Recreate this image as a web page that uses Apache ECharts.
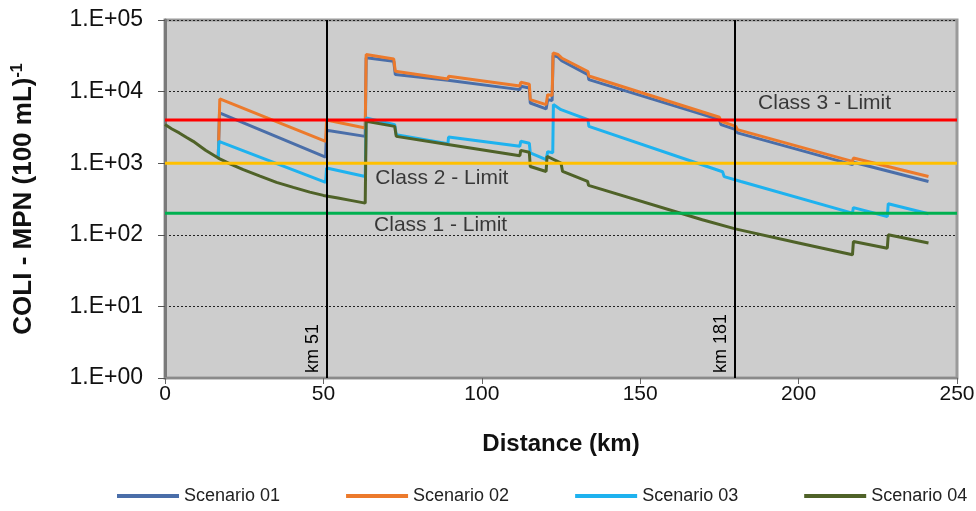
<!DOCTYPE html>
<html>
<head>
<meta charset="utf-8">
<script src="https://cdn.jsdelivr.net/npm/echarts@6/dist/echarts.min.js"></script>
<style>html,body{margin:0;padding:0;background:#fff;}#c{width:976px;height:511px;}</style>
</head>
<body>
<div id="c"></div>
<script>
// ---- data (km, MPN per 100 mL) ----
const seriesNames = ['Scenario 01', 'Scenario 02', 'Scenario 03', 'Scenario 04'];
const scenario01 = [[16.8,1180],[17.2,5030],[50.7,1220],[51,2880],[63.2,2370],[63.5,29600],[72.2,26500],[72.7,17300],[89.3,14400],[89.5,15200],[112,10660],[112.3,11870],[115,11200],[115.3,6930],[120.3,5730],[120.8,7730],[122.2,7500],[122.5,31800],[124,30500],[125.2,27000],[133.5,17300],[133.8,14700],[175,4060],[175.5,3460],[180.2,2940],[180.7,2650],[217,955],[217.3,1030],[241,556]];
const scenario02 = [[16.8,1180],[17.3,7900],[50.7,2020],[51,4000],[63.2,3100],[63.5,32900],[72.2,28600],[72.7,19200],[89.3,15000],[89.5,16400],[112,12000],[112.3,13500],[115,12700],[115.3,7730],[120.3,6580],[120.8,9080],[122.2,8800],[122.5,34700],[124,33000],[125.2,29500],[133.5,19100],[133.8,16500],[175,4380],[175.5,3850],[180.2,3270],[180.7,2940],[217,1060],[217.3,1180],[241,653]];
const scenario03 = [[16.8,1180],[17,2020],[50.7,540],[51,855],[63.2,653],[63.5,4290],[72.5,3460],[73,2500],[89.3,1870],[89.5,2320],[112,1720],[112.3,2020],[115,1900],[115.3,1390],[120.3,1120],[120.8,1450],[122.4,1400],[122.6,6580],[125,5600],[133.5,4060],[133.8,3270],[176,760],[176.5,650],[181.8,556],[217,201],[217.3,240],[228,180],[228.3,272],[241,197]];
const scenario04 = [[0,3460],[2.2,3000],[4.5,2650],[6.7,2300],[8.9,2020],[12.8,1520],[16.8,1180],[20.7,970],[24.7,812],[30,660],[35.2,540],[40.5,460],[45.7,395],[50,355],[54.6,326],[59,300],[63.2,277],[63.5,3850],[72.5,3270],[73,2370],[89.3,1820],[112,1275],[112.3,1510],[115,1420],[115.3,900],[120.3,767],[120.6,1250],[125,1000],[125.5,767],[133.4,556],[133.7,490],[169.6,162],[180,121],[200,77],[217,52.6],[217.3,80.5],[228,65],[228.3,100],[241,76.6]];
const limitNames = ['Class 1 - Limit', 'Class 2 - Limit', 'Class 3 - Limit'];
const limitValues = [200, 1000, 4000];
const limitLabelPos = [[87, 134], [87.4, 627], [208.2, 6800]];
const kmMarks = [51, 180];
const kmLabels = ['km 51', 'km 181'];
const yTickLabels = ['1.E+00', '1.E+01', '1.E+02', '1.E+03', '1.E+04', '1.E+05'];
const xTicks = [0, 50, 100, 150, 200, 250];

// ---- styles ----
const colors = ['#4a6ea9', '#ec7a2c', '#1eb2ef', '#4f6228'];
const limitColors = ['#00b050', '#ffc000', '#ff0000'];
const FONT = '"Liberation Sans", Arial, sans-serif';

const chart = echarts.init(document.getElementById('c'), null, {renderer: 'canvas'});
const scen = [scenario01, scenario02, scenario03, scenario04];

const series = scen.map((d, i) => ({
  name: seriesNames[i], type: 'line', data: d, showSymbol: false, symbol: 'none',
  lineStyle: {width: 3, color: colors[i]}, itemStyle: {color: colors[i]}, z: 3, silent: true
}));

limitValues.forEach((v, i) => {
  series.push({
    name: limitNames[i], type: 'line', data: [[xTicks[0], v], [xTicks[xTicks.length - 1], v]],
    showSymbol: false, symbol: 'none', lineStyle: {width: 3, color: limitColors[i]}, z: 4, silent: true
  });
  series.push({
    type: 'scatter', data: [limitLabelPos[i]], symbolSize: 0, silent: true, z: 6,
    label: {show: true, position: 'inside', formatter: limitNames[i], color: '#111', fontSize: 21, fontFamily: FONT}
  });
});

series.push({
  type: 'line', data: [], silent: true, z: 5,
  markLine: {
    silent: true, symbol: 'none', animation: false,
    lineStyle: {color: '#000', width: 2, type: 'solid'},
    data: kmMarks.map((k, i) => ({
      xAxis: k,
      label: {show: true, formatter: kmLabels[i], position: 'insideStartTop', color: '#000', fontSize: 18, fontFamily: FONT, distance: 5}
    }))
  }
});

chart.setOption({
  animation: false,
  backgroundColor: '#fff',
  color: colors,
  grid: {left: 165, right: 19, top: 20, bottom: 133, containLabel: false, outerBoundsMode: 'none',
    show: true, backgroundColor: '#cdcdcd', borderColor: '#9a9a9a', borderWidth: 3},
  legend: {
    data: seriesNames, left: 117, top: 487, padding: 0, itemGap: 66, itemWidth: 62, itemHeight: 4, icon: 'rect',
    textStyle: {fontSize: 18, fontFamily: FONT, color: '#222'}
  },
  xAxis: {
    type: 'value', min: 0, max: 250, interval: 50,
    name: 'Distance (km)', nameLocation: 'middle', nameGap: 54,
    nameTextStyle: {fontSize: 24, fontWeight: 'bold', fontFamily: FONT, color: '#111'},
    axisLine: {show: true, lineStyle: {color: '#8a8a8a', width: 2}},
    axisTick: {show: true, length: 6, lineStyle: {color: '#666'}},
    axisLabel: {fontSize: 21, fontFamily: FONT, color: '#111', margin: 6},
    splitLine: {show: false}
  },
  yAxis: {
    type: 'log', logBase: 10, min: 1, max: 100000,
    name: '{a|COLI - MPN (100 mL)}{s|-1}', nameLocation: 'middle', nameGap: 127,
    nameTextStyle: {
      fontSize: 26, fontWeight: 'bold', fontFamily: FONT, color: '#111',
      rich: {
        a: {fontSize: 26, fontWeight: 'bold', fontFamily: FONT, color: '#111'},
        s: {fontSize: 16, fontWeight: 'bold', fontFamily: FONT, color: '#111', verticalAlign: 'top', padding: [0, 0, 12, 0]}
      }
    },
    axisLine: {show: true, lineStyle: {color: '#7a7a7a', width: 3}},
    axisTick: {show: true, length: 7, lineStyle: {color: '#555'}},
    axisLabel: {fontSize: 23, fontFamily: FONT, color: '#111', margin: 22,
      formatter: v => yTickLabels[Math.round(Math.log10(v))]},
    splitLine: {show: true, lineStyle: {color: '#222', width: 1, type: [2, 2]}},
    minorTick: {show: false}
  },
  series: series
});
</script>
</body>
</html>
